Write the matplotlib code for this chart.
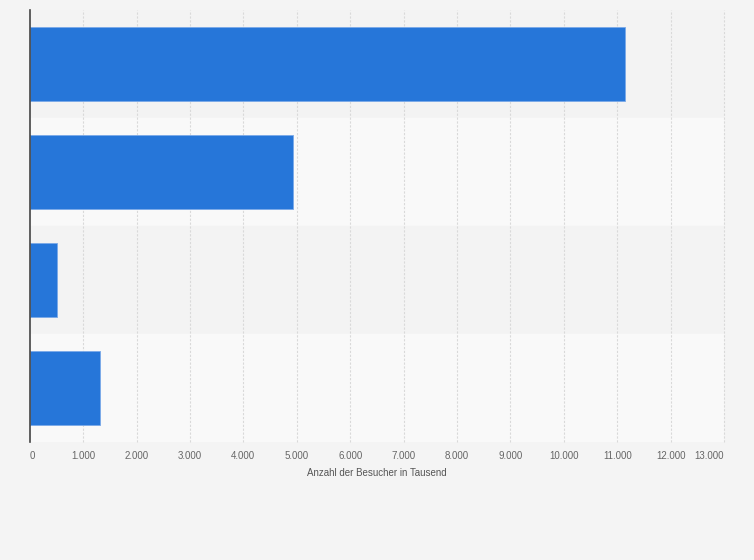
import matplotlib
matplotlib.use('Agg')
import numpy as np
import matplotlib.pyplot as plt

# Besucher in Tausend (von oben nach unten)
values = [11140, 4930, 515, 1315]
xticks = list(range(0, 14000, 1000))
xtick_labels = ['0' if t == 0 else f'{t // 1000}.000' for t in xticks]
xlabel = 'Anzahl der Besucher in Tausend'

bg = '#f4f4f4'
bar_color = '#2676d9'

plt.rcParams['font.family'] = ['Liberation Sans', 'DejaVu Sans']

fig = plt.figure(figsize=(7.54, 5.60), dpi=100, facecolor=bg)
ax = fig.add_axes([0.0394, 0.2113, 0.9209, 0.7708])
ax.set_facecolor(bg)

pos = np.arange(len(values))

# alternating row bands
for i in pos:
    ax.axhspan(i - 0.5, i + 0.5, color='#f3f3f3' if i % 2 == 0 else '#f9f9f9', zorder=0)

for t in xticks[1:]:
    ax.axvline(t, color='#d9d9d9', lw=0.8, ls=(0, (2, 1.5)), zorder=1, clip_on=False)

ax.barh(pos, values, height=0.685, color=bar_color, edgecolor='#7aa9e8', linewidth=0.6, zorder=2)

ax.set_xlim(0, 13000)
ax.set_ylim(len(values) - 0.5, -0.5)
ax.set_yticks([])
ax.set_xticks(xticks)
ax.set_xticklabels(xtick_labels, fontsize=7, color='#666666')
labels = ax.get_xticklabels()
labels[0].set_horizontalalignment('left')
labels[-1].set_horizontalalignment('right')
ax.tick_params(axis='x', length=0, pad=7)
ax.set_xlabel(xlabel, fontsize=7, color='#555555', labelpad=5)

for s in ['top', 'right', 'bottom']:
    ax.spines[s].set_visible(False)
ax.spines['left'].set_color('#444444')
ax.spines['left'].set_linewidth(1.2)
ax.spines['left'].set_zorder(3)

fig.savefig('out.png', dpi=100, facecolor=bg)
